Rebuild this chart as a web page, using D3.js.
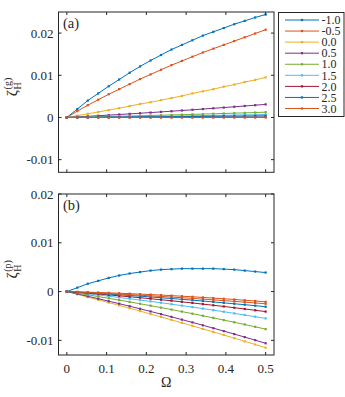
<!DOCTYPE html>
<html><head><meta charset="utf-8">
<script src="https://cdn.jsdelivr.net/npm/d3@7"></script>
<style>
html,body{margin:0;padding:0;background:#fff;}
svg{display:block;}
</style></head>
<body>
<svg id="chart" width="345" height="397" font-family="'Liberation Serif', 'Times New Roman', 'DejaVu Serif', serif"></svg>
<script>
const omega = [0, 0.0263, 0.0526, 0.0789, 0.1053, 0.1316, 0.1579, 0.1842, 0.2105, 0.2368,
  0.2632, 0.2895, 0.3158, 0.3421, 0.3684, 0.3947, 0.4211, 0.4474, 0.4737, 0.5];
const labels = ["-1.0", "-0.5", "0.0", "0.5", "1.0", "1.5", "2.0", "2.5", "3.0"];
const colors = ["#0072BD", "#D95319", "#EDB120", "#7E2F8E", "#77AC30", "#4DBEEE", "#A2142F", "#0072BD", "#D95319"];

// panel (a): zeta_H^(g)
const gM10 = [0, 0.0020, 0.0040, 0.0057, 0.0074, 0.0090, 0.0106, 0.0121, 0.0135, 0.0148, 0.0161, 0.0172, 0.0183, 0.0194, 0.0203, 0.0212, 0.0221, 0.0229, 0.0237, 0.0244];
const gM05 = [0, 0.0015, 0.0029, 0.0042, 0.0055, 0.0067, 0.0079, 0.0091, 0.0102, 0.0113, 0.0124, 0.0134, 0.0144, 0.0154, 0.0163, 0.0172, 0.0181, 0.0190, 0.0199, 0.0208];
const gP00 = [0, 0.00042, 0.00086, 0.0013, 0.00175, 0.0022, 0.0027, 0.0032, 0.0036, 0.0041, 0.0046, 0.0051, 0.0057, 0.0062, 0.0067, 0.0073, 0.0078, 0.0084, 0.0089, 0.0095];
const gP05 = [0, 0.00013, 0.00027, 0.00041, 0.00055, 0.00070, 0.00085, 0.00100, 0.00116, 0.00132, 0.00148, 0.00165, 0.00182, 0.00199, 0.00217, 0.00235, 0.00253, 0.00272, 0.00291, 0.0031];
const gP10 = [0, 0.00005, 0.00011, 0.00016, 0.00022, 0.00028, 0.00034, 0.00040, 0.00047, 0.00053, 0.00060, 0.00066, 0.00073, 0.00080, 0.00087, 0.00094, 0.00102, 0.00109, 0.00117, 0.00125];
const gP15 = [0, 0.00003, 0.00005, 0.00008, 0.00011, 0.00015, 0.00018, 0.00021, 0.00025, 0.00028, 0.00032, 0.00036, 0.00040, 0.00044, 0.00048, 0.00052, 0.00056, 0.00061, 0.00065, 0.0007];
const gP20 = [0, 0.00001, 0.00001, 0.00002, 0.00002, 0.00003, 0.00003, 0.00004, 0.00004, 0.00005, 0.00005, 0.00006, 0.00006, 0.00007, 0.00007, 0.00008, 0.00008, 0.00009, 0.00009, 0.0001];
const gP25 = [0, 0.00002, 0.00003, 0.00005, 0.00007, 0.00009, 0.00010, 0.00012, 0.00014, 0.00016, 0.00019, 0.00021, 0.00023, 0.00025, 0.00027, 0.00030, 0.00032, 0.00035, 0.00037, 0.0004];
const gP30 = [0, 0, 0, 0, 0, 0, 0, 0, 0, 0, 0, 0, 0, 0, 0, 0, 0, 0, 0, 0];

// panel (b): zeta_H^(p)
const pM10 = [0, 0.0008, 0.0016, 0.0022, 0.0028, 0.0033, 0.0037, 0.0040, 0.0043, 0.0045, 0.0046, 0.0047, 0.0047, 0.0047, 0.0047, 0.0046, 0.0045, 0.0043, 0.0041, 0.0039];
const pM05 = [0, -0.00006, -0.00012, -0.00019, -0.00026, -0.00034, -0.00043, -0.00052, -0.00062, -0.00072, -0.00083, -0.00095, -0.00107, -0.00120, -0.00133, -0.00148, -0.00162, -0.00178, -0.00193, -0.0021];
const pP00 = [0, -0.00056, -0.00112, -0.00168, -0.00225, -0.00283, -0.00342, -0.00400, -0.00460, -0.00520, -0.00580, -0.00641, -0.00703, -0.00765, -0.00828, -0.00891, -0.00955, -0.01020, -0.01085, -0.0115];
const pP05 = [0, -0.00048, -0.00096, -0.00146, -0.00197, -0.00248, -0.00300, -0.00353, -0.00407, -0.00462, -0.00518, -0.00575, -0.00632, -0.00691, -0.00750, -0.00810, -0.00871, -0.00933, -0.00996, -0.0106];
const pP10 = [0, -0.00033, -0.00067, -0.00102, -0.00138, -0.00175, -0.00212, -0.00250, -0.00289, -0.00329, -0.00369, -0.00410, -0.00453, -0.00496, -0.00539, -0.00584, -0.00629, -0.00675, -0.00722, -0.0077];
const pP15 = [0, -0.00023, -0.00046, -0.00070, -0.00095, -0.00121, -0.00147, -0.00174, -0.00201, -0.00229, -0.00258, -0.00288, -0.00318, -0.00349, -0.00381, -0.00413, -0.00447, -0.00480, -0.00515, -0.0055];
const pP20 = [0, -0.00016, -0.00033, -0.00050, -0.00068, -0.00087, -0.00106, -0.00125, -0.00146, -0.00167, -0.00188, -0.00211, -0.00233, -0.00257, -0.00281, -0.00305, -0.00331, -0.00357, -0.00383, -0.0041];
const pP25 = [0, -0.00012, -0.00025, -0.00038, -0.00051, -0.00065, -0.00080, -0.00094, -0.00110, -0.00126, -0.00142, -0.00159, -0.00176, -0.00194, -0.00212, -0.00231, -0.00250, -0.00269, -0.00289, -0.0031];
const pP30 = [0, -0.00009, -0.00019, -0.00030, -0.00040, -0.00051, -0.00063, -0.00075, -0.00087, -0.00100, -0.00113, -0.00126, -0.00140, -0.00155, -0.00170, -0.00185, -0.00201, -0.00217, -0.00233, -0.0025];

const xTicks = [0, 0.1, 0.2, 0.3, 0.4, 0.5];
const xTickLabels = ["0", "0.1", "0.2", "0.3", "0.4", "0.5"];
const yTicks = [-0.01, 0, 0.01, 0.02];
const yTickLabels = ["-0.01", "0", "0.01", "0.02"];

const seriesA = [gM10, gM05, gP00, gP05, gP10, gP15, gP20, gP25, gP30];
const seriesB = [pM10, pM05, pP00, pP05, pP10, pP15, pP20, pP25, pP30];

const svg = d3.select("#chart");
const axisColor = "#262626";
const L = 58.5, R = 274;
const x = d3.scaleLinear().domain([-0.021, 0.521]).range([L, R]);

function panel(series, top, bottom, ydom, tag, supText, showX) {
  const y = d3.scaleLinear().domain(ydom).range([bottom, top]);
  const g = svg.append("g");
  const clipId = "clip" + tag.replace(/[()]/g, "");
  g.append("clipPath").attr("id", clipId).append("rect")
    .attr("x", L).attr("y", top).attr("width", R - L).attr("height", bottom - top);
  g.append("rect").attr("x", L).attr("y", top).attr("width", R - L).attr("height", bottom - top)
    .attr("fill", "#fff");
  const line = d3.line().x((d, i) => x(omega[i])).y(d => y(d));
  const pg = g.append("g").attr("clip-path", `url(#${clipId})`);
  series.forEach((s, k) => {
    pg.append("path").attr("d", line(s)).attr("fill", "none")
      .attr("stroke", colors[k]).attr("stroke-width", 1);
    pg.selectAll(null).data(s).enter().append("rect")
      .attr("x", (d, i) => x(omega[i]) - 1.1).attr("y", d => y(d) - 1.1)
      .attr("width", 2.2).attr("height", 2.2).attr("fill", colors[k]);
  });
  const tl = 3;
  const ax = g.append("g").attr("stroke", axisColor).attr("stroke-width", 1).attr("fill", "none");
  ax.append("rect").attr("x", L).attr("y", top).attr("width", R - L).attr("height", bottom - top);
  xTicks.forEach(t => {
    ax.append("line").attr("x1", x(t)).attr("x2", x(t)).attr("y1", bottom).attr("y2", bottom - tl);
    ax.append("line").attr("x1", x(t)).attr("x2", x(t)).attr("y1", top).attr("y2", top + tl);
  });
  yTicks.forEach(t => {
    if (t < ydom[0] || t > ydom[1]) return;
    ax.append("line").attr("x1", L).attr("x2", L + tl).attr("y1", y(t)).attr("y2", y(t));
    ax.append("line").attr("x1", R).attr("x2", R - tl).attr("y1", y(t)).attr("y2", y(t));
  });
  yTicks.forEach((t, i) => {
    if (t < ydom[0] || t > ydom[1]) return;
    g.append("text").attr("x", L - 5).attr("y", y(t)).attr("dy", "0.35em")
      .attr("text-anchor", "end").attr("font-size", 13).attr("fill", axisColor).text(yTickLabels[i]);
  });
  if (showX) {
    xTicks.forEach((t, i) => {
      g.append("text").attr("x", x(t)).attr("y", bottom + 13).attr("dy", "0.35em")
        .attr("text-anchor", "middle").attr("font-size", 13).attr("fill", axisColor).text(xTickLabels[i]);
    });
  }
  g.append("text").attr("x", L + 4.5).attr("y", top + 16).attr("font-size", 14.5).attr("fill", axisColor).text(tag);
  const cy = (top + bottom) / 2 - 8;
  const lg = g.append("g").attr("transform", `translate(17,${cy + 12}) rotate(-90)`);
  const z = lg.append("text").attr("x", 0).attr("y", 0).attr("font-size", 15).attr("fill", axisColor).text("ζ");
  const zw = z.node().getComputedTextLength();
  lg.append("text").attr("x", zw + 0.5).attr("y", 3.5).attr("font-size", 10).attr("fill", axisColor).text("H");
  lg.append("text").attr("x", zw + 0.5).attr("y", -6).attr("font-size", 10).attr("fill", axisColor).text(supText);
  return y;
}

panel(seriesA, 12, 172.3, [-0.013, 0.025], "(a)", "(g)", false);
panel(seriesB, 194, 355, [-0.013, 0.02], "(b)", "(p)", true);

svg.append("text").attr("x", (L + R) / 2).attr("y", 387).attr("text-anchor", "middle")
  .attr("font-size", 14).attr("fill", axisColor).text("Ω");

// legend
const lgX = 278.5, lgY = 12.5, lgW = 65.5, lgH = 104;
const leg = svg.append("g");
leg.append("rect").attr("x", lgX).attr("y", lgY).attr("width", lgW).attr("height", lgH)
  .attr("fill", "#fff").attr("stroke", axisColor).attr("stroke-width", 1);
const ly = d3.scalePoint().domain(labels).range([lgY + 7.5, lgY + 96]);
labels.forEach((lab, k) => {
  const yy = ly(lab);
  leg.append("line").attr("x1", 285).attr("x2", 319).attr("y1", yy).attr("y2", yy)
    .attr("stroke", colors[k]).attr("stroke-width", 1);
  leg.append("rect").attr("x", 302 - 1.1).attr("y", yy - 1.1).attr("width", 2.2).attr("height", 2.2)
    .attr("fill", colors[k]);
  leg.append("text").attr("x", 321.5).attr("y", yy).attr("dy", "0.35em").attr("font-size", 12)
    .attr("fill", axisColor).text(lab);
});
</script>
</body></html>
